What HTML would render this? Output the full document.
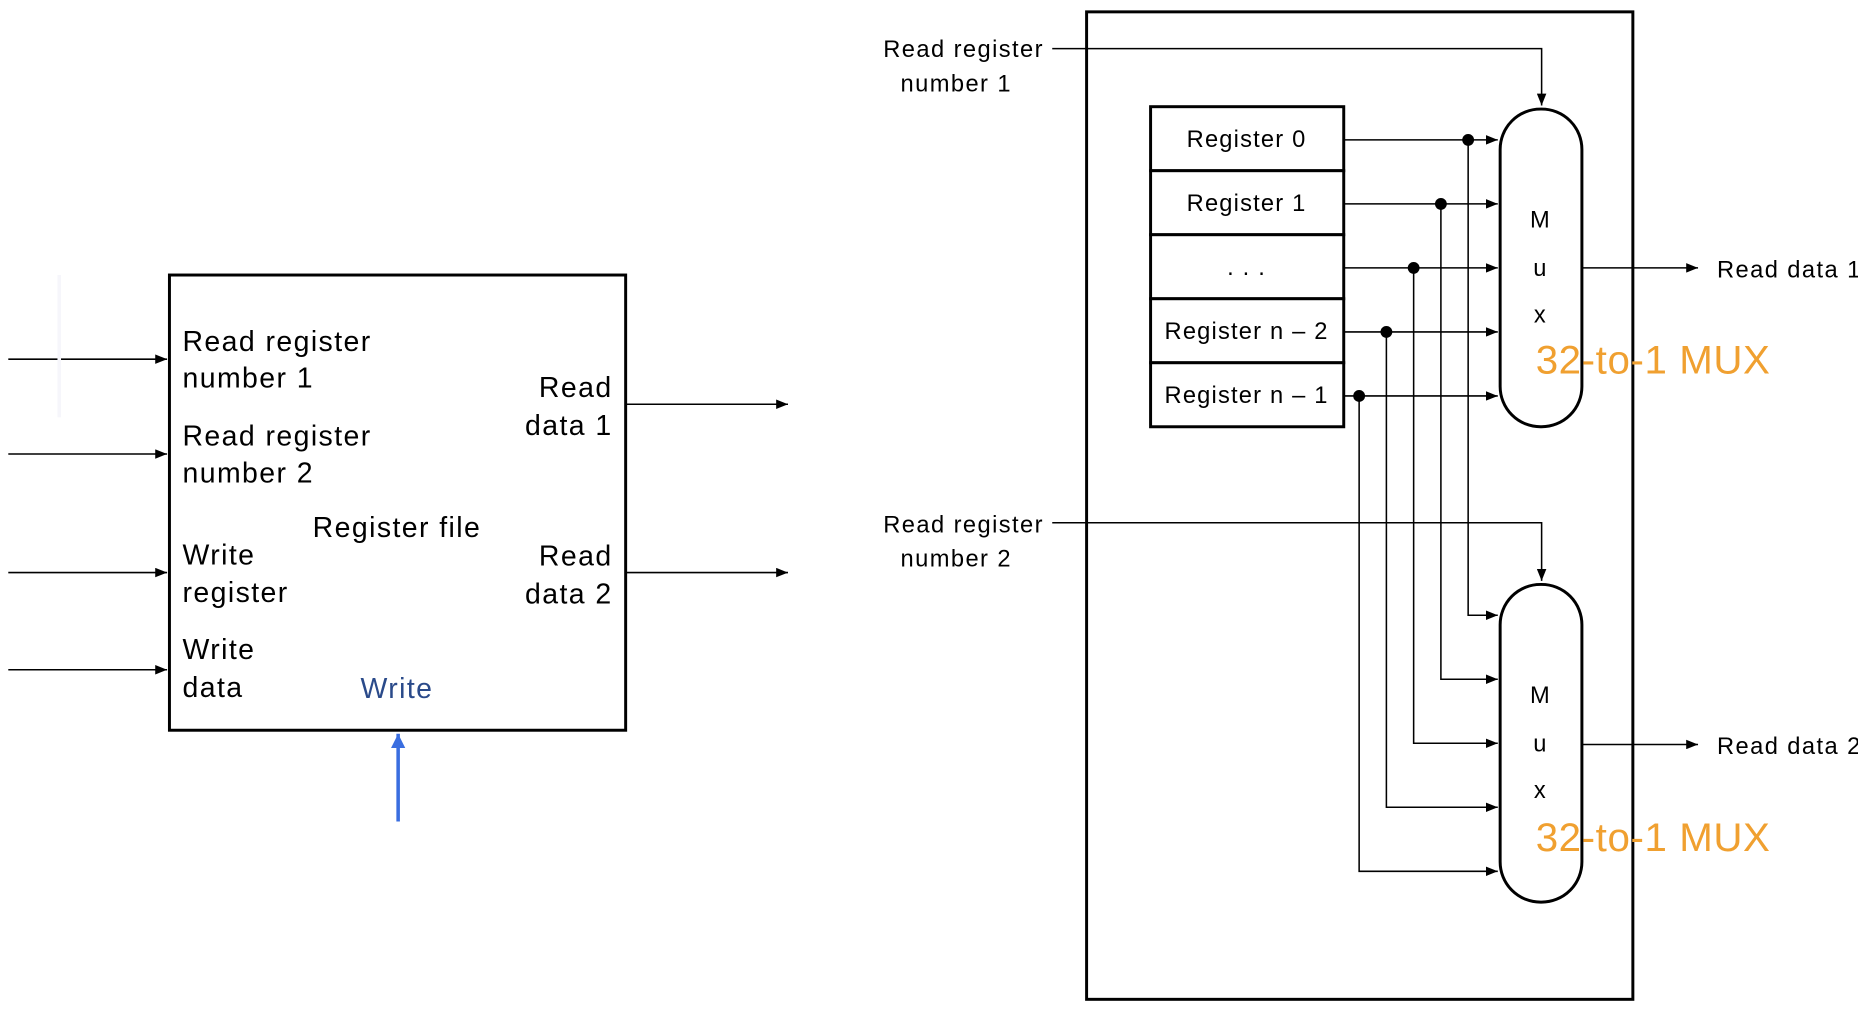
<!DOCTYPE html>
<html><head><style>html,body{margin:0;padding:0;background:#fff;overflow:hidden}</style></head>
<body>
<svg width="1858" height="1010" viewBox="0 0 1568 852" preserveAspectRatio="none" xmlns="http://www.w3.org/2000/svg" font-family="Liberation Sans, sans-serif">
<defs>
<marker id="a" markerWidth="10" markerHeight="8" refX="10" refY="4" orient="auto" markerUnits="userSpaceOnUse"><path d="M0,0 L10,4 L0,8 z" fill="#000"/></marker>
<marker id="b" markerWidth="12" markerHeight="12" refX="12" refY="6" orient="auto" markerUnits="userSpaceOnUse"><path d="M0,0 L12,6 L0,12 z" fill="#3a6ee0"/></marker>
</defs>
<g stroke="#000" stroke-width="1.3" fill="none" marker-end="url(#a)">
<line x1="7" y1="303" x2="141" y2="303"/><line x1="7" y1="383" x2="141" y2="383"/>
<line x1="7" y1="483" x2="141" y2="483"/><line x1="7" y1="565" x2="141" y2="565"/>
<line x1="528" y1="341" x2="665" y2="341"/><line x1="528" y1="483" x2="665" y2="483"/>
</g>
<line x1="50" y1="232" x2="50" y2="352" stroke="#f6f6fb" stroke-width="3"/>
<rect x="143" y="232" width="385" height="384" fill="none" stroke="#000" stroke-width="2.5"/>
<line x1="336" y1="693" x2="336" y2="619" stroke="#3a6ee0" stroke-width="3" marker-end="url(#b)"/>
<g font-size="24" fill="#000" letter-spacing="1.2">
<text x="154" y="296">Read register</text><text x="154" y="327">number 1</text>
<text x="154" y="376">Read register</text><text x="154" y="407">number 2</text>
<text x="335" y="453" text-anchor="middle">Register file</text>
<text x="154" y="476">Write</text><text x="154" y="508">register</text>
<text x="154" y="556">Write</text><text x="154" y="588">data</text>
<text x="517" y="335" text-anchor="end">Read</text><text x="517" y="367" text-anchor="end">data 1</text>
<text x="517" y="477" text-anchor="end">Read</text><text x="517" y="509" text-anchor="end">data 2</text>
<text x="335" y="589" text-anchor="middle" fill="#2a4a8a">Write</text>
</g>
<rect x="917" y="10" width="461" height="833" fill="none" stroke="#000" stroke-width="2.5"/>
<g stroke="#000" stroke-width="2.5" fill="#fff">
<rect x="971" y="90" width="163" height="54"/><rect x="971" y="144" width="163" height="54"/>
<rect x="971" y="198" width="163" height="54"/><rect x="971" y="252" width="163" height="54"/>
<rect x="971" y="306" width="163" height="54"/>
<rect x="1266" y="92" width="69" height="268" rx="34"/>
<rect x="1266" y="493" width="69" height="268" rx="34"/>
</g>
<g font-size="20" fill="#000" text-anchor="middle" letter-spacing="1">
<text x="1052" y="124">Register 0</text><text x="1052" y="178">Register 1</text>
<text x="1052" y="232">. . .</text><text x="1052" y="286">Register n – 2</text>
<text x="1052" y="340">Register n – 1</text>
<text x="1300" y="192">M</text><text x="1300" y="233">u</text><text x="1300" y="272">x</text>
<text x="1300" y="593">M</text><text x="1300" y="634">u</text><text x="1300" y="673">x</text>
</g>
<g stroke="#000" stroke-width="1.3" fill="none" marker-end="url(#a)">
<line x1="1134" y1="118" x2="1264" y2="118"/><line x1="1134" y1="172" x2="1264" y2="172"/>
<line x1="1134" y1="226" x2="1264" y2="226"/><line x1="1134" y1="280" x2="1264" y2="280"/>
<line x1="1134" y1="334" x2="1264" y2="334"/>
<polyline points="1239,118 1239,519 1264,519"/><polyline points="1216,172 1216,573 1264,573"/>
<polyline points="1193,226 1193,627 1264,627"/><polyline points="1170,280 1170,681 1264,681"/>
<polyline points="1147,334 1147,735 1264,735"/>
<polyline points="888,41 1301,41 1301,89"/><polyline points="888,441 1301,441 1301,490"/>
<line x1="1335" y1="226" x2="1433" y2="226"/><line x1="1335" y1="628" x2="1433" y2="628"/>
</g>
<g fill="#000"><circle cx="1239" cy="118" r="5"/><circle cx="1216" cy="172" r="5"/><circle cx="1193" cy="226" r="5"/><circle cx="1170" cy="280" r="5"/><circle cx="1147" cy="334" r="5"/></g>
<g font-size="20" fill="#000" letter-spacing="1.2">
<text x="881" y="48" text-anchor="end">Read register</text><text x="807" y="77" text-anchor="middle">number 1</text>
<text x="881" y="449" text-anchor="end">Read register</text><text x="807" y="478" text-anchor="middle">number 2</text>
<text x="1449" y="234">Read data 1</text><text x="1449" y="636">Read data 2</text>
</g>
<g font-size="34" fill="#f0a030" letter-spacing="0.5">
<text x="1296" y="315">32-to-1 MUX</text><text x="1296" y="718">32-to-1 MUX</text>
</g>
</svg>
</body></html>
